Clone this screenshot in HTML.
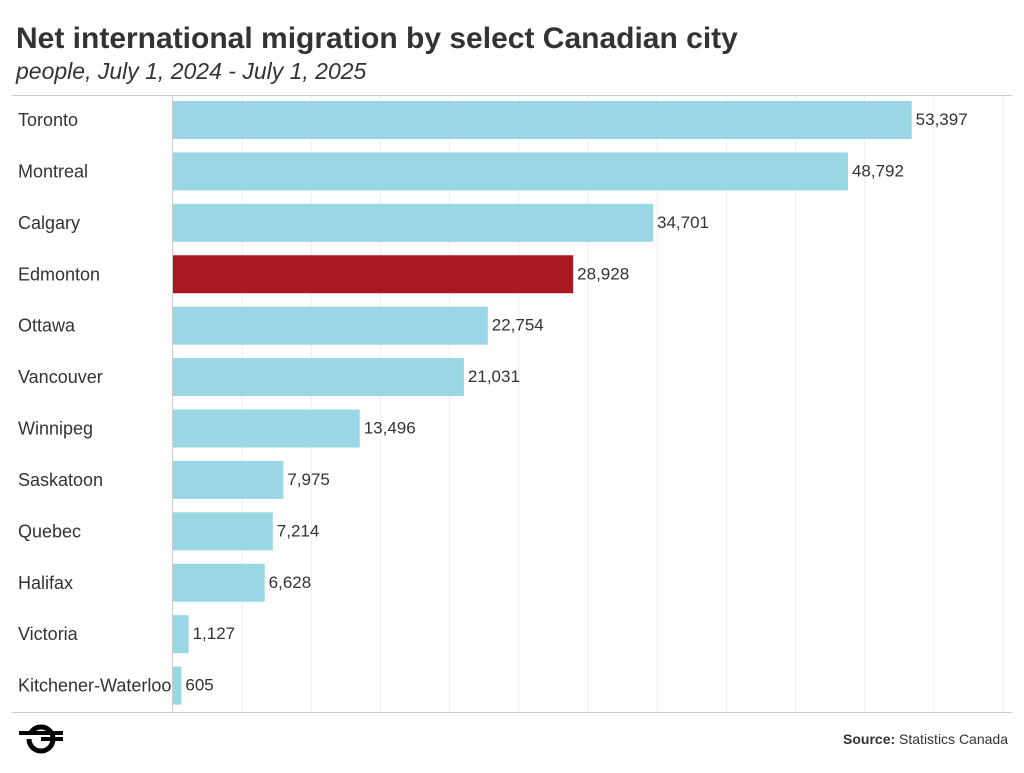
<!DOCTYPE html>
<html><head><meta charset="utf-8"><style>
body{margin:0;width:1024px;height:768px;background:#fff;font-family:"Liberation Sans",sans-serif;overflow:hidden}
</style></head><body>
<svg width="1024" height="768" id="c">
<text x="16" y="48" font-size="30" font-weight="bold" fill="#333">Net international migration by select Canadian city</text>
<text x="16" y="79" font-size="23" font-style="italic" fill="#333">people, July 1, 2024 - July 1, 2025</text>
<g id="grid"></g><g id="bars"></g>
<line x1="12" y1="95.5" x2="1012" y2="95.5" stroke="#ccc"/>
<line x1="12" y1="712.5" x2="1012" y2="712.5" stroke="#ccc"/>
<line x1="172.5" y1="95" x2="172.5" y2="712" stroke="#ccc"/>
<g>
<circle cx="41" cy="739" r="12" fill="none" stroke="#000" stroke-width="5"/>
<rect x="19" y="731" width="44" height="4" fill="#000"/>
<rect x="19" y="735" width="22" height="4" fill="#fff"/>
<rect x="41" y="737" width="22" height="4" fill="#000"/>
</g>
<text x="1008" y="744" font-size="14" fill="#333" text-anchor="end"><tspan font-weight="bold">Source:</tspan> Statistics Canada</text>
</svg>
<script>
const categories=["Toronto","Montreal","Calgary","Edmonton","Ottawa","Vancouver","Winnipeg","Saskatoon","Quebec","Halifax","Victoria","Kitchener-Waterloo"];
const values=[53397,48792,34701,28928,22754,21031,13496,7975,7214,6628,1127,605];
const highlight=["Edmonton"];
const gridTicks=[5000,10000,15000,20000,25000,30000,35000,40000,45000,50000,55000,60000];
const NS="http://www.w3.org/2000/svg";
const x0=173,x1=1003,xmax=60000,plotTop=95,rowH=(712-95)/categories.length;
const xs=v=>x0+(x1-x0)*v/xmax;
const g=document.getElementById('grid'),b=document.getElementById('bars');
gridTicks.forEach(t=>{const l=document.createElementNS(NS,'line');


l.setAttribute('x1',xs(t));l.setAttribute('x2',xs(t));l.setAttribute('y1',plotTop);l.setAttribute('y2',712);l.setAttribute('stroke','#eee');g.appendChild(l);});
categories.forEach((c,i)=>{const y=plotTop+i*rowH;
const r=document.createElementNS(NS,'rect');


r.setAttribute('x',x0);r.setAttribute('y',y+6);r.setAttribute('width',xs(values[i])-x0);r.setAttribute('height',38);
r.setAttribute('fill',highlight.includes(c)?'#a8191f':'#98d7e3');b.appendChild(r);
const t=document.createElementNS(NS,'text');


t.setAttribute('x',18);t.setAttribute('y',y+31);t.setAttribute('font-size','18');t.setAttribute('fill','#333');t.textContent=c;b.appendChild(t);
const v=document.createElementNS(NS,'text');


v.setAttribute('x',xs(values[i])+4);v.setAttribute('y',y+30);v.setAttribute('font-size','17');v.setAttribute('fill','#333');v.textContent=values[i].toLocaleString('en-US');b.appendChild(v);});
</script>
</body></html>
